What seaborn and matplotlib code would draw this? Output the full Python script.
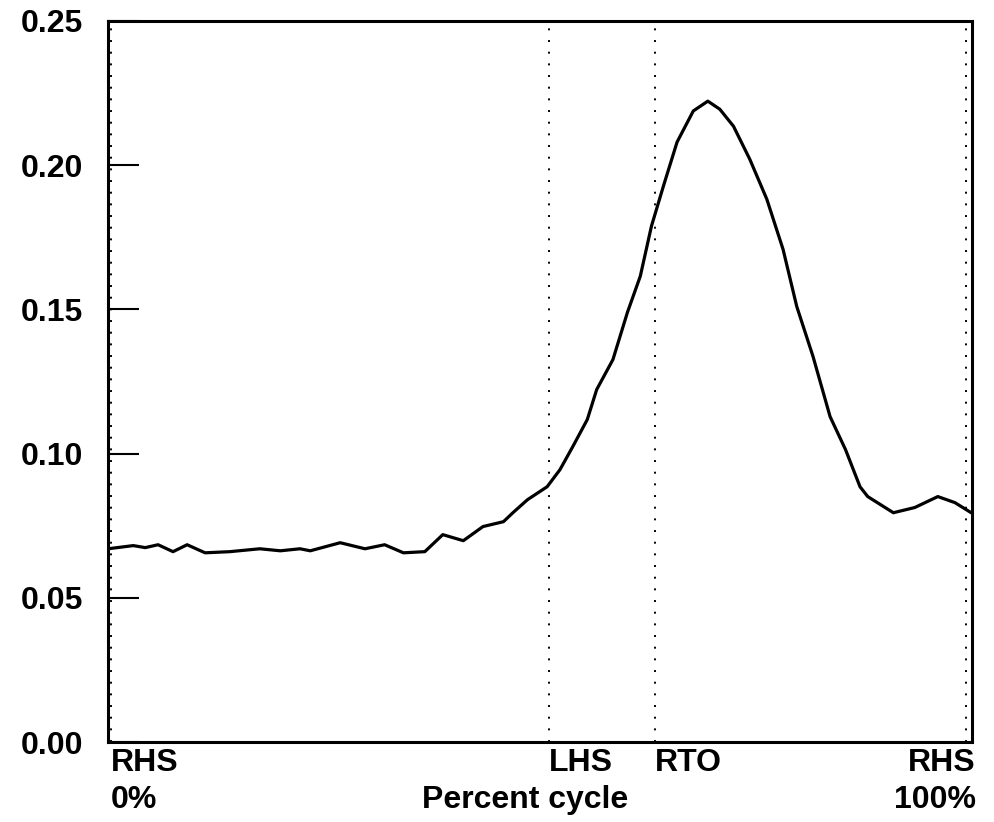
import numpy as np
import pandas as pd
import seaborn as sns
import matplotlib
matplotlib.use('Agg')
import matplotlib.pyplot as plt
from matplotlib.ticker import FormatStrFormatter

# percent of gait cycle
pct = [-0.35, 2.6, 4.0, 5.5, 7.25, 8.9, 11.0, 13.9, 17.4, 19.8, 22.1, 23.3,
       26.8, 29.7, 32.0, 34.2, 36.7, 38.8, 41.2, 43.5, 45.9, 47.0, 48.7,
       51.0, 52.5, 54.0, 55.7, 56.8, 58.7, 60.4, 61.9, 63.2, 64.6, 66.2,
       68.1, 69.8, 71.2, 72.8, 74.7, 76.7, 78.6, 80.2, 82.1, 84.1, 85.9,
       87.6, 88.5, 91.5, 94.0, 96.7, 98.7, 100.6]
value = [0.0670, 0.0681, 0.0674, 0.0684, 0.0660, 0.0684, 0.0656, 0.0660,
         0.0670, 0.0663, 0.0670, 0.0663, 0.0691, 0.0670, 0.0684, 0.0656,
         0.0660, 0.0719, 0.0698, 0.0747, 0.0764, 0.0795, 0.0840, 0.0885,
         0.0944, 0.1024, 0.1118, 0.1222, 0.1326, 0.1490, 0.1615, 0.1788,
         0.1927, 0.2080, 0.2188, 0.2222, 0.2194, 0.2135, 0.2021, 0.1882,
         0.1708, 0.1510, 0.1337, 0.1128, 0.1014, 0.0885, 0.0851, 0.0795,
         0.0813, 0.0851, 0.0830, 0.0795]

# gait events: position (%) and label
event_pos = [0, 51.2, 63.6, 100]
event_top = ['RHS', 'LHS', 'RTO', 'RHS']
event_bottom = ['0%', '', '', '100%']
event_ha = ['left', 'left', 'left', 'right']
event_dx = [0, 0, 0, 7]
yticks = [0.00, 0.05, 0.10, 0.15, 0.20, 0.25]

sns.set_style('white')
plt.rcParams['font.family'] = ['Liberation Sans', 'DejaVu Sans']
plt.rcParams['font.weight'] = 'bold'

fig = plt.figure(figsize=(9.94, 8.22), dpi=100)
ax = fig.add_axes([0.1087, 0.0973, 0.8692, 0.8772])

df = pd.DataFrame({'pct': pct, 'value': value})
sns.lineplot(data=df, x='pct', y='value', color='black', linewidth=2.3, ax=ax)

for p in event_pos:
    ax.axvline(p, color='black', linestyle=(0, (1, 5)), linewidth=1.4)

ax.set_xlim(-0.35, 100.7)
ax.set_ylim(0, 0.25)
ax.set_yticks(yticks)
ax.yaxis.set_major_formatter(FormatStrFormatter('%.2f'))
ax.set_xticks([])
ax.set_xlabel('')
ax.set_ylabel('')
ax.tick_params(axis='y', direction='in', length=22, width=1.5, pad=18,
               labelsize=23, left=True, color='black', labelcolor='black')
for lab in ax.get_yticklabels():
    lab.set_fontweight('bold')
for s in ax.spines.values():
    s.set_linewidth(2.2)
    s.set_color('black')

# event labels under the axis
for p, t, b, ha, dx in zip(event_pos, event_top, event_bottom, event_ha, event_dx):
    ax.annotate(t, xy=(p, 0), xycoords=('data', 'axes fraction'),
                xytext=(dx, -4), textcoords='offset points', ha=ha, va='top',
                fontsize=23, fontweight='bold', color='black')
    if b:
        ax.annotate(b, xy=(p, 0), xycoords=('data', 'axes fraction'),
                    xytext=(dx, -31), textcoords='offset points', ha=ha,
                    va='top', fontsize=23, fontweight='bold', color='black')
ax.annotate('Percent cycle', xy=(48.4, 0), xycoords=('data', 'axes fraction'),
            xytext=(0, -31), textcoords='offset points', ha='center',
            va='top', fontsize=23, fontweight='bold', color='black')

fig.savefig('out.png', dpi=100)
